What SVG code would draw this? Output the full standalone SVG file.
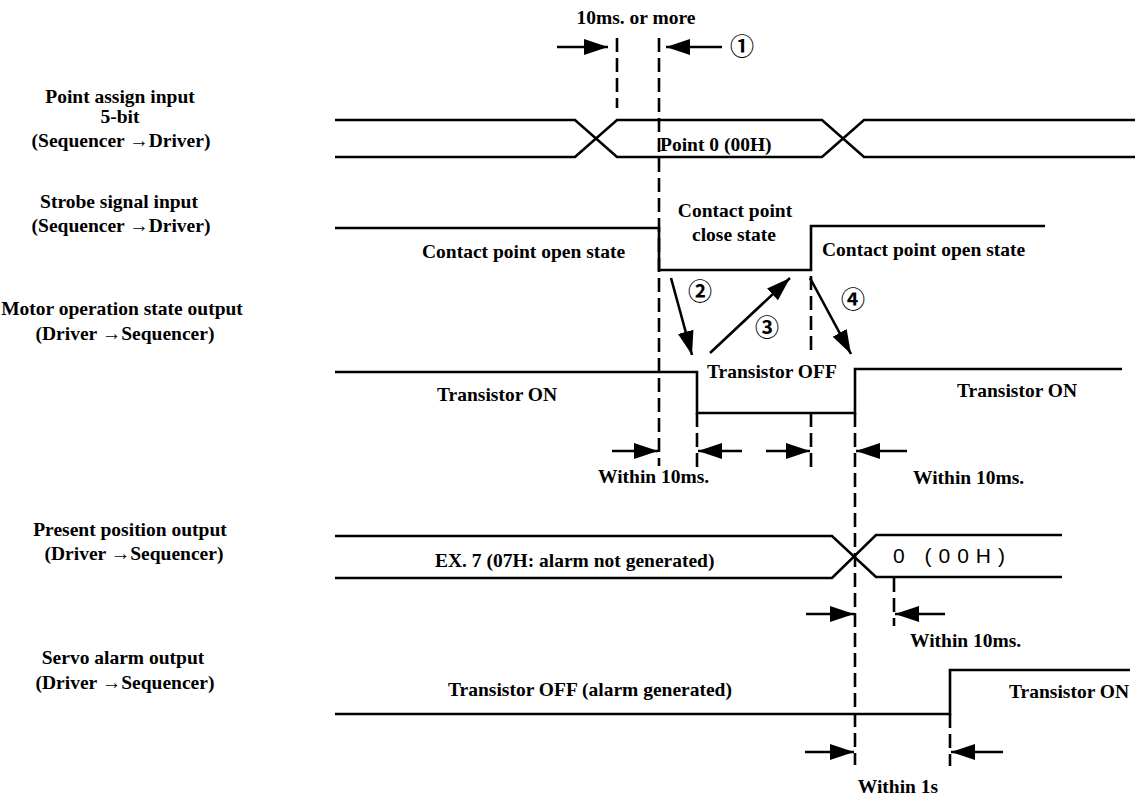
<svg xmlns="http://www.w3.org/2000/svg" width="1137" height="797" viewBox="0 0 1137 797">
<style>
  .t{font-family:"Liberation Serif","Times New Roman",serif;font-size:19.5px;font-weight:bold;fill:#000}
  .lbl{text-anchor:middle}
  .mid{text-anchor:middle}
  .sig{fill:none;stroke:#000;stroke-width:2.6;stroke-linejoin:miter}
  .dash{fill:none;stroke:#000;stroke-width:2.6;stroke-dasharray:14 6}
  .arr{fill:none;stroke:#000;stroke-width:2.6;marker-end:url(#ah)}
  .num{font-family:"Noto Sans CJK JP","DejaVu Sans",sans-serif;font-size:24px;font-weight:bold;fill:#000;text-anchor:middle}
  .mono{font-family:"Liberation Sans","DejaVu Sans",sans-serif;font-size:21px;letter-spacing:7px;fill:#000}
</style>
<defs>
  <marker id="ah" viewBox="0 0 24 16" refX="24" refY="8" markerWidth="24" markerHeight="16" markerUnits="userSpaceOnUse" orient="auto">
    <path d="M0,0 L24,8 L0,16 Z" fill="#000"/>
  </marker>
</defs>
<rect width="1137" height="797" fill="#fff"/>

<g id="labels">
  <text class="t lbl" x="120" y="103">Point assign input</text>
  <text class="t lbl" x="120" y="123">5-bit</text>
  <text class="t lbl" x="121" y="147">(Sequencer →Driver)</text>
  <text class="t lbl" x="119" y="208">Strobe signal input</text>
  <text class="t lbl" x="121" y="232">(Sequencer →Driver)</text>
  <text class="t lbl" x="122" y="315">Motor operation state output</text>
  <text class="t lbl" x="125" y="340">(Driver →Sequencer)</text>
  <text class="t lbl" x="130" y="536">Present position output</text>
  <text class="t lbl" x="134" y="560">(Driver →Sequencer)</text>
  <text class="t lbl" x="123" y="664">Servo alarm output</text>
  <text class="t lbl" x="125" y="689">(Driver →Sequencer)</text>
</g>

<g id="point-assign">
  <path class="sig" d="M335,120 H575 L617,157 H822 L864,120 H1135"/>
  <path class="sig" d="M335,157 H575 L617,120 H822 L864,157 H1135"/>
  <text class="t" x="660" y="151">Point 0 (00H)</text>
</g>

<g id="strobe">
  <path class="sig" d="M335,228 H659 V270 H811 V226 H1045"/>
  <text class="t" x="422" y="258">Contact point open state</text>
  <text class="t mid" x="735" y="217">Contact point</text>
  <text class="t mid" x="734" y="241">close state</text>
  <text class="t" x="822" y="256">Contact point open state</text>
</g>

<g id="motor">
  <path class="sig" d="M335,372 H697 V413 H855 V369 H1122"/>
  <text class="t" x="707" y="378">Transistor OFF</text>
  <text class="t" x="437" y="401">Transistor ON</text>
  <text class="t" x="957" y="397">Transistor ON</text>
</g>

<g id="present-position">
  <path class="sig" d="M335,536 H832 L876,577 H1062"/>
  <path class="sig" d="M335,578 H832 L876,535 H1062"/>
  <text class="t" x="435" y="567">EX. 7 (07H: alarm not generated)</text>
  <text class="mono" x="893" y="563">0 (00H)</text>
</g>

<g id="servo-alarm">
  <path class="sig" d="M335,714 H950 V670 H1130"/>
  <text class="t" x="448" y="696">Transistor OFF (alarm generated)</text>
  <text class="t" x="1009" y="698">Transistor ON</text>
</g>

<g id="connectors">
  <line class="dash" x1="617" y1="38" x2="617" y2="108"/>
  <line class="dash" x1="659" y1="38" x2="659" y2="466"/>
  <line class="dash" x1="697" y1="413" x2="697" y2="470"/>
  <line class="dash" x1="811" y1="276" x2="811" y2="352"/>
  <line class="dash" x1="811" y1="413" x2="811" y2="470"/>
  <line class="dash" x1="855" y1="413" x2="855" y2="765"/>
  <line class="dash" x1="894" y1="578" x2="894" y2="626"/>
  <line class="dash" x1="950" y1="714" x2="950" y2="766"/>

  <line class="arr" x1="557" y1="47" x2="608" y2="47"/>
  <line class="arr" x1="722" y1="47" x2="666" y2="47"/>
  <text class="t mid" x="636" y="24">10ms. or more</text>
  <text class="num" x="742" y="55">①</text>

  <line class="arr" x1="671" y1="278" x2="692" y2="355"/>
  <line class="arr" x1="710" y1="353" x2="790" y2="278"/>
  <line class="arr" x1="810" y1="278" x2="851" y2="354"/>
  <text class="num" x="700" y="300">②</text>
  <text class="num" x="767" y="336">③</text>
  <text class="num" x="853" y="308">④</text>

  <line class="arr" x1="612" y1="451" x2="658" y2="451"/>
  <line class="arr" x1="742" y1="451" x2="698" y2="451"/>
  <line class="arr" x1="766" y1="451" x2="810" y2="451"/>
  <line class="arr" x1="907" y1="451" x2="856" y2="451"/>
  <text class="t" x="598" y="483">Within 10ms.</text>
  <text class="t" x="913" y="484">Within 10ms.</text>

  <line class="arr" x1="806" y1="614" x2="854" y2="614"/>
  <line class="arr" x1="945" y1="614" x2="895" y2="614"/>
  <text class="t" x="910" y="647">Within 10ms.</text>

  <line class="arr" x1="805" y1="752" x2="854" y2="752"/>
  <line class="arr" x1="1003" y1="752" x2="951" y2="752"/>
  <text class="t mid" x="898" y="793">Within 1s</text>
</g>
</svg>
